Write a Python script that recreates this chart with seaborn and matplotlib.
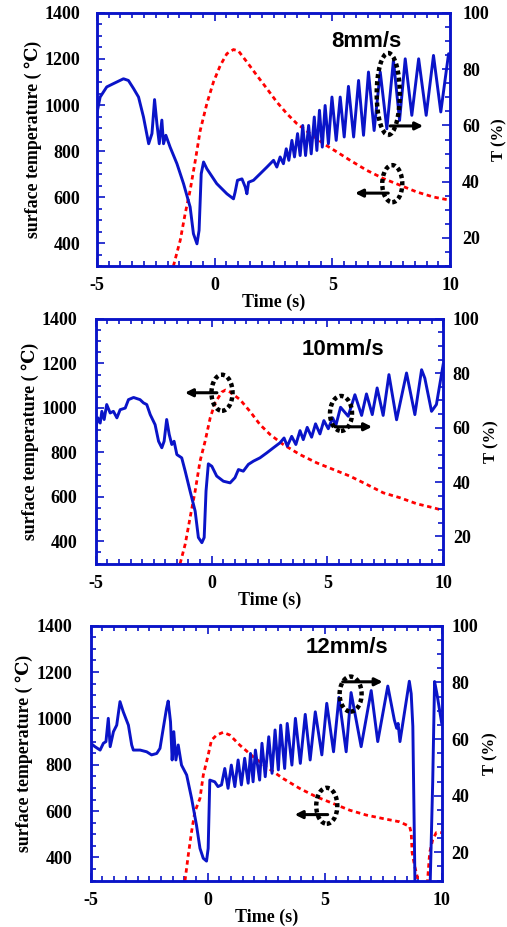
import numpy as np
import pandas as pd
import seaborn as sns
import matplotlib.pyplot as plt
from matplotlib.patches import Ellipse
from matplotlib.ticker import MultipleLocator

plt.rcParams['axes.unicode_minus'] = False

# ---- panel 1 : 8mm/s ----
p1_blue_t = [-5, -4.86, -4.58, -4.29, -3.87, -3.66, -3.44, -3.23, -3.02, -2.80, -2.66, -2.55, -2.45,
             -2.35, -2.24, -2.17, -2.07, -1.89, -1.60, -1.32, -1.04, -0.90, -0.75, -0.66, -0.57, -0.47,
             -0.33, 0.09, 0.52, 0.80, 0.87, 0.97, 1.16, 1.30, 1.37, 1.44, 1.65, 1.93, 2.22,
             2.50, 2.64, 2.78, 2.92, 3.04, 3.15, 3.28, 3.39, 3.52, 3.63, 3.74, 3.86, 3.99, 4.10,
             4.23, 4.34, 4.45, 4.57, 4.69, 4.83, 4.98, 5.16, 5.33, 5.50, 5.68, 5.90, 6.11, 6.32,
             6.53, 6.77, 7.03, 7.31, 7.59, 7.85, 8.09, 8.37, 8.66, 8.98, 9.29, 9.60, 9.93, 10.0]
p1_blue_v = [64.2, 70.1, 73.7, 74.9, 76.6, 76.0, 73.1, 70.1, 63.0, 53.5, 57.1, 69.2, 60.6,
             53.5, 61.9, 53.5, 56.5, 52.3, 46.4, 39.3, 31.0, 21.5, 17.9, 22.7, 42.8, 47.0,
             44.6, 39.3, 35.7, 33.9, 36.3, 40.5, 41.0, 38.1, 35.7, 39.8, 40.5, 42.8, 45.2,
             47.6, 45.2, 48.8, 46.4, 51.7, 47.6, 54.7, 48.8, 57.1, 49.3, 60.0, 49.3, 60.0, 49.9,
             63.0, 51.1, 65.4, 52.3, 67.1, 53.5, 70.1, 54.7, 70.1, 55.9, 73.9, 55.9, 76.0, 56.5,
             79.0, 58.2, 79.0, 58.8, 83.2, 61.8, 83.7, 63.6, 83.7, 63.6, 84.9, 64.8, 85.5, 84.0]
p1_red_t = [-1.75, -1.46, -1.25, -1.04, -0.82, -0.61, -0.33, -0.05, 0.24, 0.52, 0.80, 1.01, 1.37,
            1.79, 2.22, 2.64, 3.07, 3.49, 4.06, 4.62, 5.19, 5.76, 6.46, 7.17, 7.88, 8.58, 9.29, 10.0]
p1_red_v = [300, 412, 528, 629, 759, 890, 1006, 1100, 1172, 1223, 1241, 1235, 1187,
            1129, 1071, 1013, 962, 919, 875, 832, 796, 759, 716, 680, 651, 622, 600, 586]

# ---- panel 2 : 10mm/s ----
p2_blue_t = [-5, -4.91, -4.81, -4.74, -4.64, -4.53, -4.38, -4.24, -4.09, -3.95, -3.73, -3.59, -3.37,
             -3.09, -2.94, -2.80, -2.65, -2.44, -2.29, -2.15, -2.05, -1.94, -1.83, -1.72, -1.62,
             -1.50, -1.29, -1.14, -0.93, -0.71, -0.57, -0.42, -0.32, -0.24, -0.14, 0.01, 0.22,
             0.51, 0.80, 1.01, 1.16, 1.37, 1.59, 1.81, 2.09, 2.38, 2.67,
             2.95, 3.13, 3.27, 3.46, 3.64, 3.82, 3.96, 4.13, 4.32, 4.49, 4.68, 4.85, 5.04, 5.23,
             5.37, 5.57, 5.90, 6.19, 6.48, 6.69, 6.94, 7.15, 7.41, 7.66, 7.99, 8.42, 8.78, 9.07,
             9.21, 9.50, 9.71, 10.0]
p2_blue_v = [59.9, 63.6, 61.7, 66.0, 63.0, 68.5, 65.4, 66.0, 63.6, 66.6, 67.2, 70.3, 71.1,
             70.3, 69.1, 68.5, 64.8, 61.1, 55.0, 52.6, 55.0, 63.0, 57.5, 53.8, 55.0,
             50.1, 48.9, 44.0, 36.7, 29.3, 19.6, 17.7, 19.6, 36.7, 46.7, 45.8, 42.2,
             40.3, 39.7, 41.6, 44.6, 44.0, 46.5, 47.7, 48.9, 50.7, 52.6,
             54.4, 56.2, 53.2, 56.8, 53.8, 58.9, 55.6, 60.1, 56.5, 61.4, 57.7, 62.6, 59.6, 63.6,
             60.9, 67.5, 64.2, 72.1, 64.5, 72.4, 64.8, 74.6, 64.5, 79.5, 62.9, 80.1, 64.8, 81.3,
             78.2, 66.0, 68.5, 83.1]
p2_red_t = [-1.36, -1.14, -0.93, -0.71, -0.50, -0.28, -0.06, 0.15, 0.44, 0.60, 0.80, 1.23, 1.66,
            2.09, 2.53, 3.10, 3.82, 4.54, 5.26, 5.98, 6.70, 7.42, 8.14, 8.86, 9.58, 10.0]
p2_red_v = [300, 387, 506, 626, 760, 850, 955, 1022, 1071, 1080, 1071, 1037, 984,
            925, 880, 835, 790, 753, 723, 693, 656, 618, 596, 569, 551, 539]

# ---- panel 3 : 12mm/s ----
p3_blue_t = [-5, -4.82, -4.60, -4.46, -4.35, -4.25, -4.17, -4.03, -3.89, -3.75, -3.61, -3.39, -3.25,
             -3.18, -2.89, -2.61, -2.40, -2.18, -2.04, -1.90, -1.76, -1.69, -1.59, -1.52, -1.45,
             -1.36, -1.26, -1.12, -0.90, -0.69, -0.48, -0.33, -0.19, -0.05, 0.02,
             0.09, 0.30, 0.44, 0.59, 0.73, 0.87, 1.01, 1.16, 1.30, 1.44, 1.58, 1.73, 1.83, 1.94,
             2.04, 2.22, 2.32, 2.46, 2.61, 2.75, 2.88, 3.02, 3.12, 3.29, 3.40, 3.60, 3.75, 3.96,
             4.17, 4.38, 4.60, 4.88, 5.09, 5.38, 5.61, 5.92, 6.13, 6.56, 6.99, 7.27, 7.70, 7.98,
             8.08, 8.14, 8.22, 8.62, 8.70, 8.77, 8.86, 8.90, 9.50, 9.62, 9.70, 9.80, 10.0]
p3_blue_v = [58.5, 57.3, 56.1, 58.5, 59.1, 67.3, 57.3, 62.6, 64.9, 73.2, 69.6, 64.9, 57.9,
             56.1, 56.1, 55.5, 54.4, 54.9, 56.7, 63.8, 70.8, 73.4, 66.1, 52.6, 62.6,
             52.6, 57.9, 50.8, 47.3, 39.1, 29.6, 21.4, 17.9, 16.9, 21.4,
             45.5, 44.9, 43.2, 43.8, 49.6, 42.6, 50.8, 43.2, 52.6, 43.8, 53.2, 44.4, 54.9, 44.9,
             56.1, 45.5, 58.5, 46.7, 60.8, 47.9, 63.2, 49.1, 64.9, 49.6, 65.5, 50.8, 67.3, 51.4,
             68.7, 52.6, 69.6, 54.4, 72.6, 55.5, 74.7, 55.5, 76.4, 57.3, 77.1, 59.1, 78.7, 66.7,
             63.8, 65.5, 59.1, 80.4, 76.0, 64.5, 10.0, 5.0, 5.0, 45.0, 80.3, 76.0, 65.8]
p3_red_t = [-0.97, -0.83, -0.69, -0.55, -0.33, -0.19, 0.02, 0.16, 0.38, 0.66, 0.95, 1.37, 1.94,
            2.51, 3.22, 3.93, 4.64, 5.36, 6.07, 6.78, 7.49, 8.20, 8.63, 8.70, 8.74, 8.85, 8.97,
            9.05, 9.35, 9.40, 9.49, 9.62, 9.77, 10.0]
p3_red_v = [300, 411, 511, 597, 655, 755, 842, 906, 928, 940, 928, 885, 835,
            791, 741, 698, 662, 633, 604, 583, 568, 554, 534, 507, 421, 362, 313,
            200, 200, 300, 421, 477, 507, 507]

speeds = ["8mm/s", "10mm/s", "12mm/s"]
speed_pos = [(6.43, 1278), (5.68, 1261), (5.94, 1305)]
# ellipse marks: (x, y, w, h) in left-axis units, arrow (x0, x1, y)
marks = [
    [((7.37, 1048), 0.98, 356, (7.45, 8.85, 909)), ((7.54, 658), 0.85, 161, (7.37, 5.96, 617))],
    [((0.45, 1068), 0.91, 162, (0.23, -1.15, 1068)), ((5.59, 975), 0.95, 157, (5.33, 6.93, 915))],
    [((6.11, 1105), 0.94, 151, (5.77, 7.48, 1158)), ((5.09, 623), 0.90, 155, (5.13, 3.72, 585))],
]
boxes = [[0.191, 0.713, 0.697, 0.273], [0.189, 0.392, 0.685, 0.264], [0.179, 0.050, 0.692, 0.275]]
left_pads = [12, 13.5, 13.5]
right_pads = [8.5, 7, 7]
tlab_pads = [2, 3, 3]

BLUE = "#0a14c8"
RED = "#ff0000"
serif = ["Liberation Serif", "DejaVu Serif"]

fig = plt.figure(figsize=(5.07, 9.27), dpi=100)

panels = [(p1_blue_t, p1_blue_v, p1_red_t, p1_red_v),
          (p2_blue_t, p2_blue_v, p2_red_t, p2_red_v),
          (p3_blue_t, p3_blue_v, p3_red_t, p3_red_v)]

for i, (bt, bv, rt, rv) in enumerate(panels):
    ax = fig.add_axes(boxes[i])
    ax2 = ax.twinx()

    red = pd.DataFrame({"t": rt, "v": rv})
    blue = pd.DataFrame({"t": bt, "v": bv})
    sns.lineplot(data=red, x="t", y="v", ax=ax, color=RED, lw=2.0,
                 linestyle=(0, (1.6, 1.3)), estimator=None, sort=False)
    sns.lineplot(data=blue, x="t", y="v", ax=ax2, color=BLUE, lw=2.1,
                 estimator=None, sort=False)

    ax.set_xlim(-5, 10)
    ax.set_ylim(300, 1400)
    ax2.set_ylim(10, 100)
    ax.xaxis.set_major_locator(MultipleLocator(5))
    ax.xaxis.set_minor_locator(MultipleLocator(0.5))
    ax.yaxis.set_major_locator(MultipleLocator(200))
    ax.yaxis.set_minor_locator(MultipleLocator(50))
    ax2.yaxis.set_major_locator(MultipleLocator(20))
    ax2.yaxis.set_minor_locator(MultipleLocator(5))
    ax.set_yticks([400, 600, 800, 1000, 1200, 1400])
    ax2.set_yticks([20, 40, 60, 80, 100])

    for a in (ax, ax2):
        for s in a.spines.values():
            s.set_color(BLUE)
            s.set_linewidth(1.8)
    ax.tick_params(axis="x", which="both", direction="in", top=True, color=BLUE, width=1.2,
                   pad=8, labelsize=13)
    ax.tick_params(axis="x", which="major", length=6)
    ax.tick_params(axis="x", which="minor", length=3.5)
    ax.tick_params(axis="y", which="both", direction="in", color=BLUE, width=1.2,
                   pad=left_pads[i], labelsize=13)
    ax.tick_params(axis="y", which="major", length=6)
    ax.tick_params(axis="y", which="minor", length=3.5)
    ax2.tick_params(axis="y", which="both", direction="in", color=BLUE, width=1.2,
                    pad=right_pads[i], labelsize=13)
    ax2.tick_params(axis="y", which="major", length=6)
    ax2.tick_params(axis="y", which="minor", length=3.5)
    for lab in ax.get_xticklabels() + ax.get_yticklabels() + ax2.get_yticklabels():
        lab.set_fontfamily(serif)
        lab.set_fontweight("bold")

    ax.set_xlabel("Time (s)", fontsize=13, fontweight="bold", family=serif, labelpad=0)
    ax.set_ylabel("surface temperature ( ℃)", fontsize=12.8, fontweight="bold",
                  family=serif, labelpad=2)
    ax2.set_ylabel("T (%)", fontsize=12, fontweight="bold", family=serif,
                   labelpad=tlab_pads[i])

    tx, ty = speed_pos[i]
    ax2.text(tx, ty, speeds[i], transform=ax.transData, ha="center", va="center",
             fontsize=16, fontweight="bold", family="Liberation Sans")

    for (cx, cy), w, h, (x0, x1, ay) in marks[i]:
        ax2.add_patch(Ellipse((cx, cy), w, h, transform=ax.transData, fill=False,
                              ec="black", lw=3.2, ls=(0, (0.9, 0.7)), zorder=5))
        ax2.annotate("", xy=(x1, ay), xytext=(x0, ay), xycoords=ax.transData,
                     textcoords=ax.transData,
                     arrowprops=dict(arrowstyle="-|>", color="black", lw=2.2,
                                     mutation_scale=11, shrinkA=0, shrinkB=0), zorder=6)

fig.savefig("out.png", dpi=100)
